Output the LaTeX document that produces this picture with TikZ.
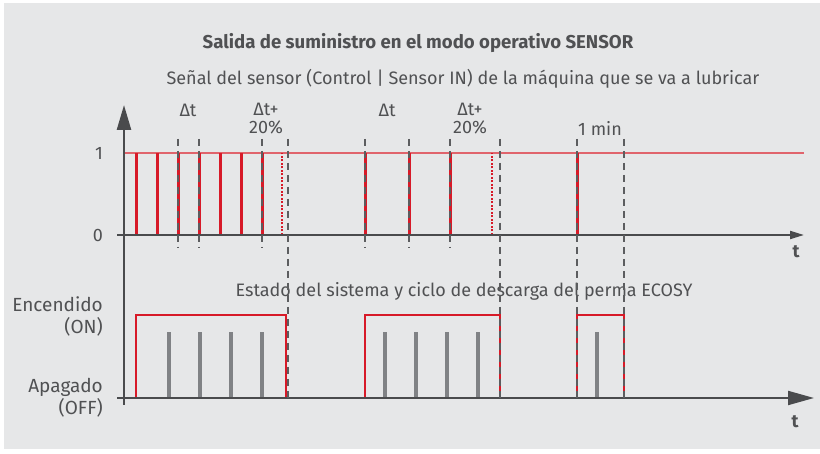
\documentclass[tikz,border=0pt]{standalone}
\usepackage{fontspec}
\setmainfont{Fira Sans}
\usetikzlibrary{arrows.meta}

\definecolor{panelgray}{HTML}{E6E7E8}
\definecolor{inkgray}{HTML}{505153}
\definecolor{axisgray}{HTML}{4A4B4D}
\definecolor{bargray}{HTML}{808285}
\definecolor{pulsered}{HTML}{D71A28}
\definecolor{levelred}{HTML}{E0646C}

\tikzset{
  lbl/.style={text=inkgray,font=\fontsize{18}{18}\selectfont,inner sep=0pt},
  sidelbl/.style={text=inkgray,font=\fontsize{19}{22}\selectfont,inner sep=0pt,anchor=east,align=right},
  ttl/.style={text=inkgray,font=\fontsize{18.6}{20}\selectfont\bfseries,inner sep=0pt},
  axis/.style={draw=axisgray,line width=2pt},
  pulse/.style={draw=pulsered,line width=3pt},
  dotpulse/.style={draw=pulsered,line width=2pt,dash pattern=on 2pt off 1.5pt},
  guide/.style={draw=axisgray!90,line width=1.2pt,dash pattern=on 7pt off 5pt},
  state/.style={draw=pulsered,line width=2pt},
  spray/.style={draw=bargray,line width=4pt}
}

\begin{document}
\begin{tikzpicture}[x=1pt,y=-1pt]
\useasboundingbox (0,0) rectangle (820,454);
\fill[panelgray] (4,3) rectangle (820,449);

% titles
\node[ttl] (title) at (418,43) {Salida de suministro en el modo operativo SENSOR};
\node[lbl] (signal) at (463,79) {Señal del sensor (Control | Sensor IN) de la máquina que se va a lubricar};
\node[lbl] (status) at (464,291) {Estado del sistema y ciclo de descarga del perma ECOSY};

% level labels
\node[lbl,anchor=east] (one) at (103,153) {1};
\node[lbl,anchor=east] (zero) at (103,235) {0};
\node[sidelbl] (on) at (103,316) {Encendido\\(ON)};
\node[sidelbl] (off) at (103,398) {Apagado\\(OFF)};

% interval labels
\node[lbl] (dt1) at (188,110) {Δt};
\node[lbl,align=center] (dtp1) at (266,119) {Δt+\\20\%};
\node[lbl] (dt2) at (387,110) {Δt};
\node[lbl,align=center] (dtp2) at (470,119) {Δt+\\20\%};
\node[lbl] (min) at (600,128) {1 min};

% sensor signal
\draw[draw=levelred,line width=1.5pt] (124,153) -- (804,153);
\foreach \x in {136,157,...,262,365,409,450,577}
  \draw[pulse] (\x,235) -- (\x,153);
\foreach \x in {282,492}
  \draw[dotpulse] (\x,235) -- (\x,153);

% system state
\draw[state] (136,398) |- (286,315) -- (286,398);
\draw[state] (365,398) |- (500,315) -- (500,398);
\draw[state] (577,398) |- (624,315) -- (624,398);
\foreach \x in {169,200,231,262,385,416,447,478,597}
  \draw[spray] (\x,398) -- (\x,332);

% axes
\coordinate (ybot) at (124,405);
\coordinate (ytop) at (124,105);
\draw[axis,line width=2.5pt,-{Triangle[length=25pt,width=14pt]}] (ybot) -- (ytop);
\draw[axis,-{Triangle[length=14pt,width=8pt]}] (117,235) -- (804,235);
\draw[axis,-{Triangle[length=26pt,width=14pt]}] (117,398) -- (814,398);
\node[lbl,font=\fontsize{18}{18}\selectfont\bfseries] (t1) at (796,252) {t};
\node[lbl,font=\fontsize{18}{18}\selectfont\bfseries] (t2) at (795,422) {t};

% time guides
\foreach \x in {178,199,262,365,409,450}
  \draw[guide] (\x,139) -- (\x,248);
\foreach \x in {288,500,577,624}
  \draw[guide] (\x,139) -- (\x,398);
\end{tikzpicture}
\end{document}
